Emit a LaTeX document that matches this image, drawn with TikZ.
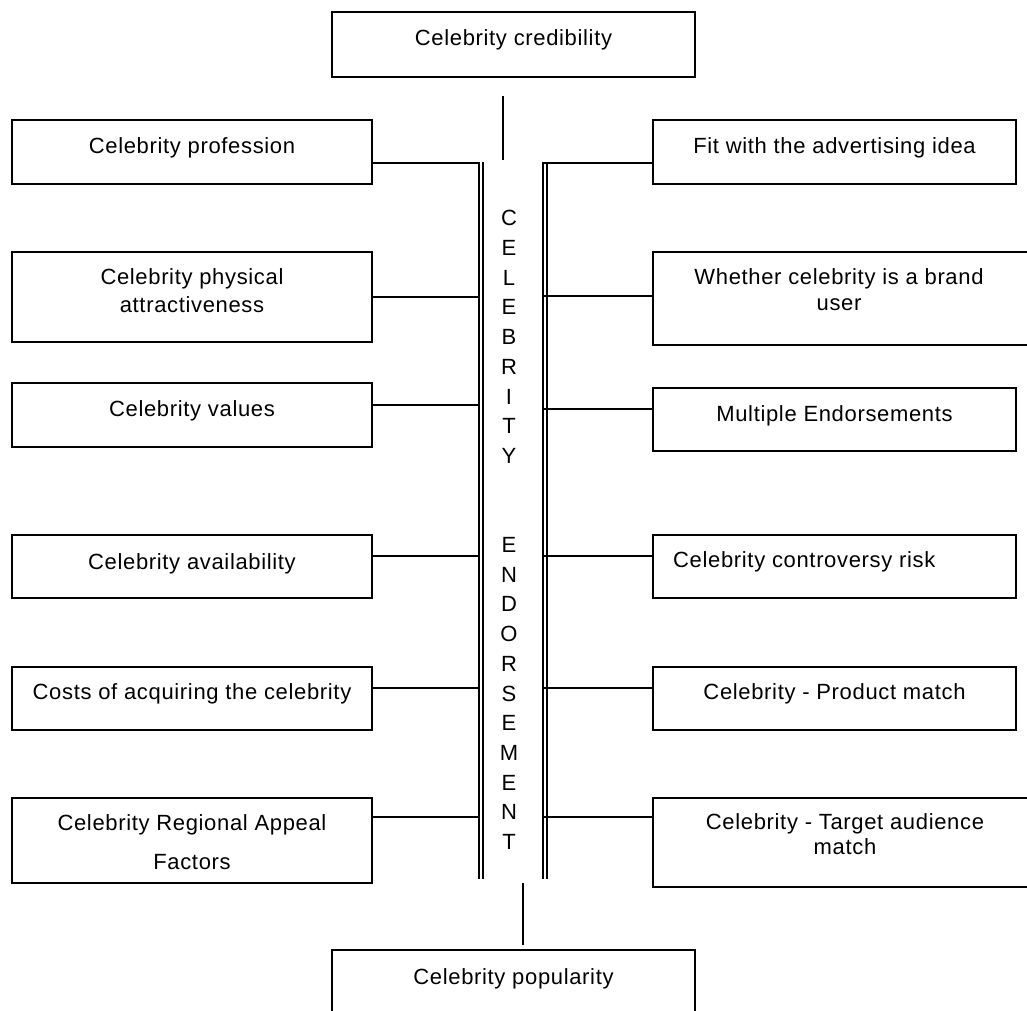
\documentclass[tikz,border=0pt]{standalone}
\usepackage{fontspec}
\setmainfont{Liberation Sans}[LetterSpace=3]
\usetikzlibrary{calc}

\tikzset{
  box/.style={draw, rectangle, line width=1.3pt, minimum width=360pt, inner sep=0pt},
  boxtext/.style={font=\fontsize{22}{28}\selectfont, align=center, inner sep=0pt},
  link/.style={line width=1.1pt},
}

\begin{document}
\begin{tikzpicture}[x=1pt, y=-1pt]
    \useasboundingbox (0,0) rectangle (1027,1010);

    % top and bottom boxes
    \node[box, minimum width=363pt, minimum height=65pt] (cred) at (513.5,44.5) {};
    \node[boxtext, anchor=base] (credt) at (513.5,45) {Celebrity credibility};
    \node[box, minimum width=363pt, minimum height=65pt] (pop) at (513.5,982.5) {};
    \node[boxtext, anchor=base] (popt) at (513.5,984) {Celebrity popularity};

    \coordinate (topA) at (503,96);
    \coordinate (topB) at (503,160);
    \coordinate (botA) at (523,883);
    \coordinate (botB) at (523,945);
    \draw[link] (topA) -- (topB);
    \draw[link] (botA) -- (botB);

    % the spine
    \coordinate (lspine) at (479,162);
    \coordinate (lspine2) at (483,162);
    \coordinate (rspine) at (543,162);
    \coordinate (rspine2) at (547,162);
    \draw[link] (lspine) -- ++(0,717);
    \draw[link] (lspine2) -- ++(0,717);
    \draw[link] (rspine) -- ++(0,717);
    \draw[link] (rspine2) -- ++(0,717);
    \node[font=\fontsize{22}{29.7}\selectfont, align=center, inner sep=0pt] (spine) at (509,530)
        {C\\E\\L\\E\\B\\R\\I\\T\\Y\\[59.4pt]E\\N\\D\\O\\R\\S\\E\\M\\E\\N\\T};

    % left side
    \node[box, minimum height=64pt] (l1) at (192,152) {};
    \node[boxtext, anchor=base] (l1t) at (192,153) {Celebrity profession};
    \node[box, minimum height=90pt] (l2) at (192,297) {};
    \node[boxtext] (l2t) at (192,291) {Celebrity physical\\attractiveness};
    \node[box, minimum height=64pt] (l3) at (192,415) {};
    \node[boxtext, anchor=base] (l3t) at (192,416) {Celebrity values};
    \node[box, minimum height=63pt] (l4) at (192,566.5) {};
    \node[boxtext, anchor=base] (l4t) at (192,569) {Celebrity availability};
    \node[box, minimum height=63pt] (l5) at (192,698.5) {};
    \node[boxtext, anchor=base] (l5t) at (192,699) {Costs of acquiring the celebrity};
    \node[box, minimum height=85pt] (l6) at (192,840.5) {};
    \node[boxtext] (l6t) at (192,842.5) {Celebrity Regional Appeal\\[11pt]Factors};

    \draw[link] ([yshift=-11pt]l1.east) -- ([yshift=-11pt]l1.east -| lspine);
    \draw[link] (l2.east) -- (l2.east -| lspine);
    \draw[link] ([yshift=10pt]l3.east) -- ([yshift=10pt]l3.east -| lspine);
    \draw[link] ([yshift=10.5pt]l4.east) -- ([yshift=10.5pt]l4.east -| lspine);
    \draw[link] ([yshift=10.5pt]l5.east) -- ([yshift=10.5pt]l5.east -| lspine);
    \draw[link] ([yshift=23.5pt]l6.east) -- ([yshift=23.5pt]l6.east -| lspine);

    % right side
    \node[box, minimum width=363pt, minimum height=64pt] (r1) at (834.5,152) {};
    \node[boxtext, anchor=base] (r1t) at (834.5,153) {Fit with the advertising idea};
    \node[box, minimum width=387pt, minimum height=93pt] (r2) at (846.5,298.5) {};
    \node[boxtext] (r2t) at (839,290) {Whether celebrity is a brand\\[-2pt]user};
    \node[box, minimum width=363pt, minimum height=63pt] (r3) at (834.5,419.5) {};
    \node[boxtext, anchor=base] (r3t) at (834.5,421) {Multiple Endorsements};
    \node[box, minimum width=363pt, minimum height=63pt] (r4) at (834.5,566.5) {};
    \node[boxtext, anchor=base west] (r4t) at (673,567) {Celebrity controversy risk};
    \node[box, minimum width=363pt, minimum height=63pt] (r5) at (834.5,698.5) {};
    \node[boxtext, anchor=base] (r5t) at (834.5,699) {Celebrity - Product match};
    \node[box, minimum width=387pt, minimum height=89pt] (r6) at (846.5,842.5) {};
    \node[boxtext] (r6t) at (845,834.5) {Celebrity - Target audience\\[-3pt]match};

    \draw[link] ([yshift=-11pt]r1.west) -- ([yshift=-11pt]r1.west -| rspine);
    \draw[link] ([yshift=2.5pt]r2.west) -- ([yshift=2.5pt]r2.west -| rspine);
    \draw[link] ([yshift=10.5pt]r3.west) -- ([yshift=10.5pt]r3.west -| rspine);
    \draw[link] ([yshift=10.5pt]r4.west) -- ([yshift=10.5pt]r4.west -| rspine);
    \draw[link] ([yshift=10.5pt]r5.west) -- ([yshift=10.5pt]r5.west -| rspine);
    \draw[link] ([yshift=25.5pt]r6.west) -- ([yshift=25.5pt]r6.west -| rspine);
\end{tikzpicture}
\end{document}
